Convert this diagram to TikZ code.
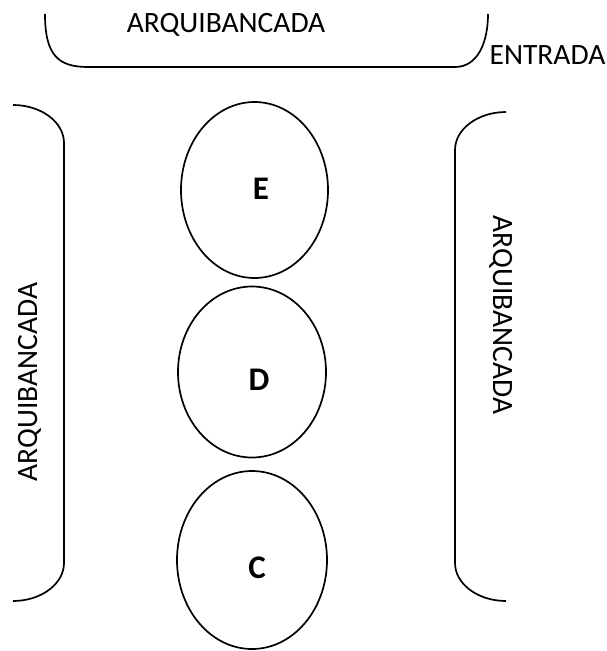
\documentclass[tikz,border=0pt]{standalone}
\usepackage{fontspec}
\setmainfont{Carlito}
\usetikzlibrary{shapes.geometric}
\begin{document}
\begin{tikzpicture}[x=1pt,y=-1pt,
  line/.style={line width=1.7pt},
  oval/.style={ellipse,draw,line width=1.7pt,inner sep=0pt},
  lbl/.style={font=\fontsize{29.5}{35}\selectfont,inner sep=0pt,anchor=base},
  bold/.style={font=\fontsize{33}{38}\selectfont\bfseries,inner sep=0pt,anchor=base}]
\useasboundingbox (0,0) rectangle (606,651);
% top bracket
\coordinate (t1) at (45,14);
\coordinate (t2) at (488,14);
\draw[line] (t1) .. controls (45,55) and (58,67) .. (88,67) -- (455,67) .. controls (478,67) and (488,42) .. (t2);
% left bracket
\coordinate (l1) at (13,105);
\coordinate (l2) at (13,601);
\draw[line] (l1) .. controls (41,105) and (64,122) .. (64,143) -- (64,563) .. controls (64,584) and (41,601) .. (l2);
% right bracket
\coordinate (r1) at (506,112);
\coordinate (r2) at (506,601);
\draw[line] (r1) .. controls (478,112) and (455,129) .. (455,150) -- (455,563) .. controls (455,584) and (478,601) .. (r2);
% ellipses
\node[oval,minimum width=147pt,minimum height=176pt] (E) at (254.5,190) {};
\node[oval,minimum width=148pt,minimum height=171pt] (D) at (252,372) {};
\node[oval,minimum width=150pt,minimum height=178pt] (C) at (252,560) {};
\node[bold] (Et) at (261,199) {E};
\node[bold] (Dt) at (259,390) {D};
\node[bold] (Ct) at (257,578) {C};
% texts
\node[lbl] (top) at (226,32) {ARQUIBANCADA};
\node[lbl] (ent) at (547.5,64) {ENTRADA};
\node[lbl,rotate=90] (left) at (37,382) {ARQUIBANCADA};
\node[lbl,rotate=-90] (right) at (493,315) {ARQUIBANCADA};
\end{tikzpicture}
\end{document}
